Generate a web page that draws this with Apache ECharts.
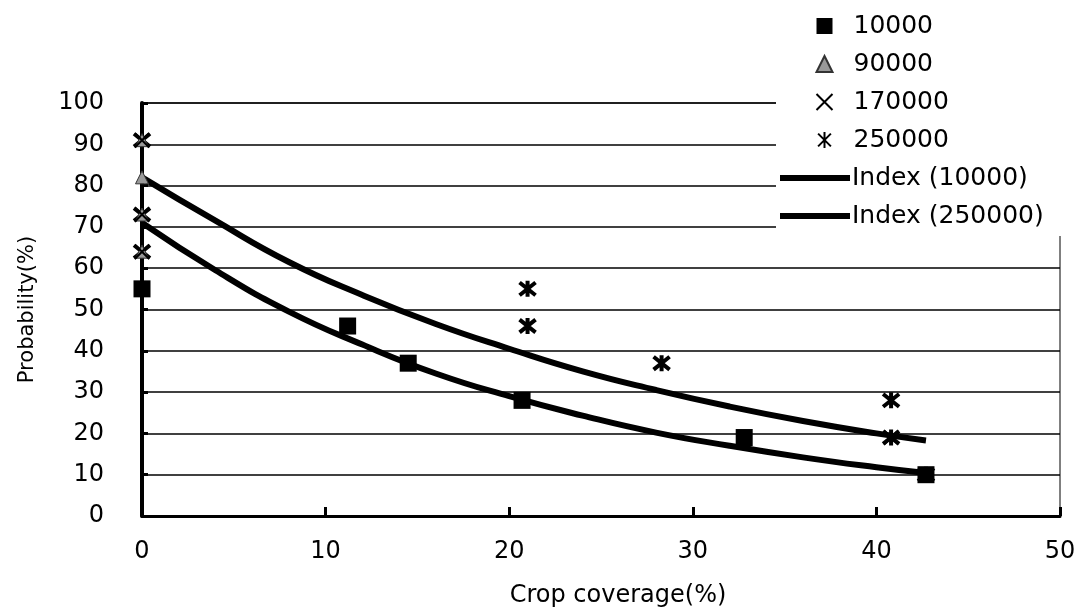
<!DOCTYPE html>
<html><head><meta charset="utf-8">
<script src="https://cdn.jsdelivr.net/npm/echarts@6/dist/echarts.min.js"></script>
<style>html,body{margin:0;padding:0;background:#fff}#c{width:1081px;height:608px}</style>
</head><body><div id="c"></div>
<script>
var s10000 = [[0,55],[11.2,46],[14.5,37],[20.7,28],[32.8,19],[42.7,10]];
var s90000 = [[0,64],[0,73],[0,82],[0,91]];
var s170000 = [[0,64],[0,73],[0,91],[40.8,19],[42.7,10]];
var s250000 = [[0,64],[0,73],[0,91],[21,55],[21,46],[28.3,37],[40.8,28],[40.8,19],[42.7,10]];
var idx10000 = [[0,71],[4,59.5],[8,49.5],[12,41.5],[16,34.5],[20,29],[24,24.3],[28,20.2],[32,17],[36,14.2],[40,11.8],[42.7,10.4]];
var idx250000 = [[0,82],[4,71.5],[8,61.5],[12,53.5],[16,46.5],[20,40.5],[24,35],[28,30.5],[32,26.5],[36,23],[40,20],[42.7,18.3]];
var xTicks = [0,10,20,30,40,50];
var yTicks = [0,10,20,30,40,50,60,70,80,90,100];

var F = 'DejaVu Sans, Liberation Sans, sans-serif';
var crossPath = 'path://M0,0L10,10M10,0L0,10';
var starPath = 'path://M1,1L9,9M9,1L1,9M5,0L5,10';
var chart = echarts.init(document.getElementById('c'));
chart.setOption({
  animation:false,
  backgroundColor:'#fff',
  grid:{left:142,right:21,top:103,bottom:92,show:true,borderColor:'#000',borderWidth:1,backgroundColor:'transparent',
    containLabel:false,outerBoundsMode:'none'},
  xAxis:{type:'value',min:0,max:50,interval:10,
    axisLine:{show:true,onZero:false,lineStyle:{color:'#000',width:3}},
    axisTick:{show:true,inside:true,length:9,lineStyle:{color:'#000',width:3}},
    splitLine:{show:false},
    axisLabel:{color:'#000',fontSize:24,fontFamily:F,margin:24,
      formatter:function(v){return xTicks.indexOf(v)>=0?String(v):'';}},
    name:'Crop coverage(%)',nameLocation:'middle',nameGap:68,
    nameTextStyle:{color:'#000',fontSize:24,fontFamily:F,padding:[0,0,0,34]}},
  yAxis:{type:'value',min:0,max:100,interval:10,
    axisLine:{show:true,lineStyle:{color:'#000',width:4}},
    axisTick:{show:true,inside:true,length:6,lineStyle:{color:'#000',width:3}},
    splitLine:{show:true,lineStyle:{color:'#000',width:1.5}},
    axisLabel:{color:'#000',fontSize:24,fontFamily:F,margin:38,
      formatter:function(v){return yTicks.indexOf(v)>=0?String(v):'';}},
    name:'Probability(%)',nameLocation:'middle',nameGap:104,
    nameTextStyle:{color:'#000',fontSize:21,fontFamily:F}},
  graphic:[{type:'rect',z:50,shape:{x:776,y:0,width:305,height:236},style:{fill:'#fff'}}],
  legend:[
    {data:[{name:'10000',icon:'rect'},{name:'90000',icon:'triangle'},{name:'170000',icon:crossPath},{name:'250000',icon:starPath}],
     orient:'vertical',left:814,top:12,itemWidth:16,itemHeight:16,itemGap:10,z:60,padding:0,
     textStyle:{color:'#000',fontSize:25,fontFamily:F,lineHeight:28,padding:[0,0,0,16]}},
    {data:['Index (10000)','Index (250000)'],
     orient:'vertical',left:780,top:164,itemWidth:70,itemHeight:6,itemGap:10,z:60,icon:'rect',padding:0,
     textStyle:{color:'#000',fontSize:25,fontFamily:F,lineHeight:28,padding:[0,0,0,-3]}}
  ],
  series:[
    {name:'Index (10000)',type:'line',data:idx10000,smooth:true,symbol:'none',z:3,
      lineStyle:{color:'#000',width:6},itemStyle:{color:'#000'}},
    {name:'Index (250000)',type:'line',data:idx250000,smooth:true,symbol:'none',z:3,
      lineStyle:{color:'#000',width:6},itemStyle:{color:'#000'}},
    {name:'10000',type:'scatter',data:s10000,symbol:'rect',symbolSize:17,z:4,
      itemStyle:{color:'#000',opacity:1}},
    {name:'250000',type:'scatter',data:s250000,symbol:starPath,symbolSize:16,z:5,
      itemStyle:{color:'none',borderColor:'#000',borderWidth:4,opacity:1}},
    {name:'90000',type:'scatter',data:s90000,symbol:'triangle',symbolSize:13,z:6,
      itemStyle:{color:'#999',borderColor:'#333',borderWidth:1,opacity:1}},
    {name:'170000',type:'scatter',data:s170000,symbol:crossPath,symbolSize:14,z:7,
      itemStyle:{color:'none',borderColor:'#000',borderWidth:2,opacity:1}}
  ]
});
</script></body></html>
